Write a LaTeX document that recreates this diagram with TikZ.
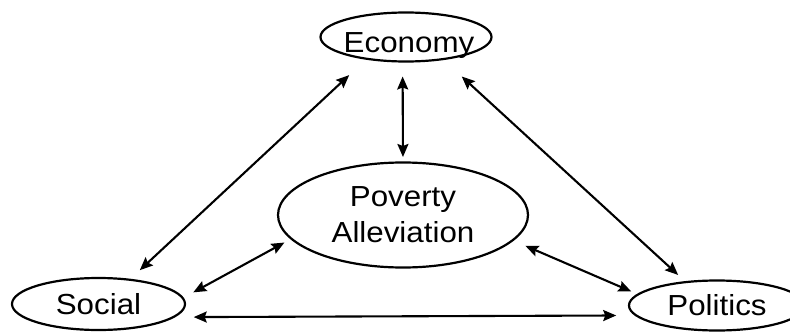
\documentclass[tikz,border=0pt]{standalone}
\usepackage{fontspec}
\newfontfamily\lbl{Liberation Sans}[FakeStretch=1.08]
\usetikzlibrary{arrows.meta,shapes.geometric}
\begin{document}
\begin{tikzpicture}[x=1pt,y=1pt,
  bubble/.style={ellipse,draw,line width=2.2pt,inner sep=0pt,outer sep=0pt,
    font=\lbl\fontsize{29}{36}\selectfont},
  link/.style={line width=2.1pt,
    {Stealth[length=13pt,width=11pt,inset=2pt]}-{Stealth[length=13pt,width=11pt,inset=2pt]}}]
\useasboundingbox (0,0) rectangle (790,333);
\node[bubble,minimum width=171pt,minimum height=49pt,text height=31pt,text depth=0pt] (eco) at (406,296) {\makebox[0pt]{\hspace{6pt}Economy}};
\node[bubble,minimum width=250pt,minimum height=105pt,align=center] (pov) at (403,118) {Poverty\\Alleviation};
\node[bubble,minimum width=173pt,minimum height=52pt,text height=20.8pt,text depth=0pt] (soc) at (98.5,29) {Social};
\node[bubble,minimum width=176pt,minimum height=50pt,text height=20.8pt,text depth=0pt] (pol) at (717,27.5) {Politics};
\draw[link,shorten <=24pt,shorten >=14pt] (eco.209.4) -- (soc.38.1);
\draw[link,shorten <=15pt,shorten >=5.5pt] (eco.262.9) -- (pov.90);
\draw[link,shorten <=25.7pt,shorten >=10.6pt] (eco.329.8) -- (pol.143.3);
\draw[link,shorten <=8pt,shorten >=12pt] (pov.192.3) -- (soc.4.4);
\draw[link,shorten <=14pt,shorten >=7.5pt] (pov.347.8) -- (pol.172.6);
\draw[link,shorten <=20.6pt,shorten >=20pt] (soc.350.6) -- (pol.187.9);
\end{tikzpicture}
\end{document}
